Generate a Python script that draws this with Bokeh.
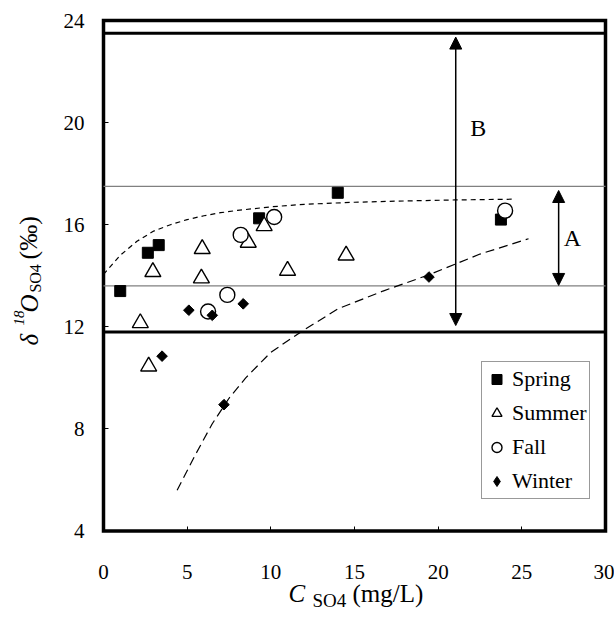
import math
from bokeh.plotting import figure
from bokeh.models import (Range1d, Arrow, NormalHead, Label, Legend,
                          LegendItem, FixedTicker)
from bokeh.embed import file_html
from bokeh.resources import INLINE

# ---- data ----
spring_x = [1.0, 2.65, 3.3, 9.3, 14.0, 23.75]
spring_y = [13.4, 14.9, 15.2, 16.25, 17.25, 16.2]

summer_x = [2.2, 2.7, 2.95, 5.9, 5.85, 8.65, 9.6, 11.0, 14.5]
summer_y = [12.15, 10.45, 14.15, 15.05, 13.9, 15.3, 15.95, 14.2, 14.8]

fall_x = [6.25, 7.4, 8.2, 10.2, 24.0]
fall_y = [12.6, 13.25, 15.6, 16.3, 16.55]

winter_x = [3.5, 5.1, 6.5, 7.2, 8.35, 19.45]
winter_y = [10.85, 12.65, 12.45, 8.95, 12.9, 13.95]

upper_curve_x = [0, 1, 2, 3, 4, 5, 6, 7, 8, 10, 12, 15, 18, 21, 24.6]
upper_curve_y = [14.05, 14.8, 15.35, 15.75, 16.0, 16.2, 16.35, 16.47, 16.56,
                 16.7, 16.8, 16.88, 16.93, 16.97, 17.0]

lower_curve_x = [4.4, 5.5, 6.5, 7.5, 8.5, 10, 11.8, 14, 16.7, 19.5, 22.5, 25.4]
lower_curve_y = [5.6, 7.0, 8.2, 9.2, 10.0, 11.0, 11.8, 12.7, 13.4, 14.05,
                 14.85, 15.45]

thick_levels = [23.5, 11.8]
thin_levels = [17.5, 13.6]

arrow_B = dict(x=21.05, y0=12.05, y1=23.35)
arrow_A = dict(x=27.2, y0=13.62, y1=17.34)

x_ticks = [0, 5, 10, 15, 20, 25, 30]
y_ticks = [4, 8, 12, 16, 20, 24]

X_LO, X_HI = 0, 30
Y_LO, Y_HI = 4, 24

SERIF = "Liberation Serif"

# canvas: plotting box occupies x 0..30 and y 4..24; the rest of the frame
# holds axis tick labels and titles (axes pinned with fixed_location)
W, H = 614, 617
PX_X = 502 / 30.0       # pixels per x unit
PX_Y = 510.5 / 20.0     # pixels per y unit
LEFT_PX, TOP_PX = 103, 20
x_lo = X_LO - LEFT_PX / PX_X
x_hi = x_lo + W / PX_X
y_hi = Y_HI + TOP_PX / PX_Y
y_lo = y_hi - H / PX_Y

p = figure(output_backend="svg", toolbar_location=None,
           x_range=Range1d(x_lo, x_hi), y_range=Range1d(y_lo, y_hi),
           width=W, height=H, min_border=0)
p.background_fill_color = "white"
p.border_fill_color = "white"
p.outline_line_color = None
p.grid.visible = False

xa = p.xaxis[0]
ya = p.yaxis[0]
xa.fixed_location = Y_LO
ya.fixed_location = X_LO
xa.bounds = (X_LO, X_HI)
ya.bounds = (Y_LO, Y_HI)
for ax in (xa, ya):
    ax.axis_line_color = None
    ax.major_tick_in = 5
    ax.major_tick_out = 0
    ax.minor_tick_line_color = None
    ax.major_tick_line_color = "black"
    ax.major_tick_line_width = 1
    ax.major_label_text_font = SERIF
    ax.major_label_text_font_size = "21px"
    ax.major_label_text_color = "black"
xa.ticker = FixedTicker(ticks=x_ticks)
ya.ticker = FixedTicker(ticks=y_ticks)
xa.major_label_standoff = 34
ya.major_label_standoff = 19

# plotting box
p.quad(left=[X_LO], right=[X_HI], bottom=[Y_LO], top=[Y_HI], fill_color=None,
       line_color="black", line_width=3.5, line_join="miter")

# horizontal reference lines
n_thick = len(thick_levels)
p.segment(x0=[X_LO] * n_thick, x1=[X_HI] * n_thick, y0=thick_levels, y1=thick_levels,
          line_color="black", line_width=3)
n_thin = len(thin_levels)
p.segment(x0=[X_LO] * n_thin, x1=[X_HI] * n_thin, y0=thin_levels, y1=thin_levels,
          line_color="#808080", line_width=1.2)

# dashed curves
p.line(upper_curve_x, upper_curve_y, line_color="black", line_width=1.2,
       line_dash="5 4")
p.line(lower_curve_x, lower_curve_y, line_color="black", line_width=1.2,
       line_dash="9 5")

# arrows
for a in (arrow_B, arrow_A):
    p.add_layout(Arrow(x_start=a["x"], y_start=a["y0"], x_end=a["x"], y_end=a["y1"],
                       line_color="black", line_width=1.5,
                       start=NormalHead(size=12, fill_color="black", line_color="black"),
                       end=NormalHead(size=12, fill_color="black", line_color="black")))
p.add_layout(Label(x=22.4, y=19.77, text="B", text_font=SERIF, text_font_size="24px",
                   text_align="center", text_baseline="middle", text_color="black"))
p.add_layout(Label(x=28.02, y=15.46, text="A", text_font=SERIF, text_font_size="24px",
                   text_align="center", text_baseline="middle", text_color="black"))

# data markers
r_spring = p.scatter(spring_x, spring_y, marker="square", size=11,
                     fill_color="black", line_color="black")
r_summer = p.scatter(summer_x, summer_y, marker="triangle", size=16,
                     fill_color="white", line_color="black", line_width=1.4)
r_fall = p.scatter(fall_x, fall_y, marker="circle", size=15,
                   fill_color="white", line_color="black", line_width=1.4)
r_winter = p.scatter(winter_x, winter_y, marker="square", size=7.5, angle=math.pi / 4,
                     fill_color="black", line_color="black")
# legend key for winter (diamond symbol, no visible point)
r_winter_key = p.scatter([float("nan")], [float("nan")], marker="diamond", size=10,
                         fill_color="black", line_color="black")

legend = Legend(items=[LegendItem(label="Spring", renderers=[r_spring]),
                       LegendItem(label="Summer", renderers=[r_summer]),
                       LegendItem(label="Fall", renderers=[r_fall]),
                       LegendItem(label="Winter", renderers=[r_winter_key])],
                location=(481, 118))
legend.label_text_font = SERIF
legend.label_text_font_size = "22px"
legend.label_text_color = "black"
legend.border_line_color = "#333333"
legend.border_line_width = 1
legend.padding = 2
legend.spacing = 4
legend.margin = 0
legend.label_height = 30
legend.glyph_height = 30
legend.glyph_width = 25
legend.label_standoff = 3
p.add_layout(legend)

# x-axis title: C_SO4 (mg/L)
p.add_layout(Label(x=11.06, y=1.04, text="C", text_font=SERIF, text_font_style="italic",
                   text_font_size="25px", text_color="black"))
p.add_layout(Label(x=12.49, y=0.85, text="SO4", text_font=SERIF,
                   text_font_size="19px", text_color="black"))
p.add_layout(Label(x=14.88, y=1.04, text="(mg/L)", text_font=SERIF,
                   text_font_size="25px", text_color="black"))

# y-axis title: delta^18 O_SO4 (permil), rotated
rot = math.pi / 2
p.add_layout(Label(x=-3.645, y=11.27, text="δ", angle=rot, text_font=SERIF,
                   text_font_style="italic", text_font_size="25px", text_color="black"))
p.add_layout(Label(x=-4.78, y=12.05, text="18", angle=rot, text_font=SERIF,
                   text_font_style="italic", text_font_size="15px", text_color="black"))
p.add_layout(Label(x=-3.645, y=12.56, text="O", angle=rot, text_font=SERIF,
                   text_font_style="italic", text_font_size="25px", text_color="black"))
p.add_layout(Label(x=-3.526, y=13.34, text="SO4", angle=rot, text_font=SERIF,
                   text_font_size="16px", text_color="black"))
p.add_layout(Label(x=-3.645, y=14.64, text="(‰)", angle=rot, text_font=SERIF,
                   text_font_size="26px", text_color="black"))

open("out.html", "w").write(file_html(p, INLINE))
